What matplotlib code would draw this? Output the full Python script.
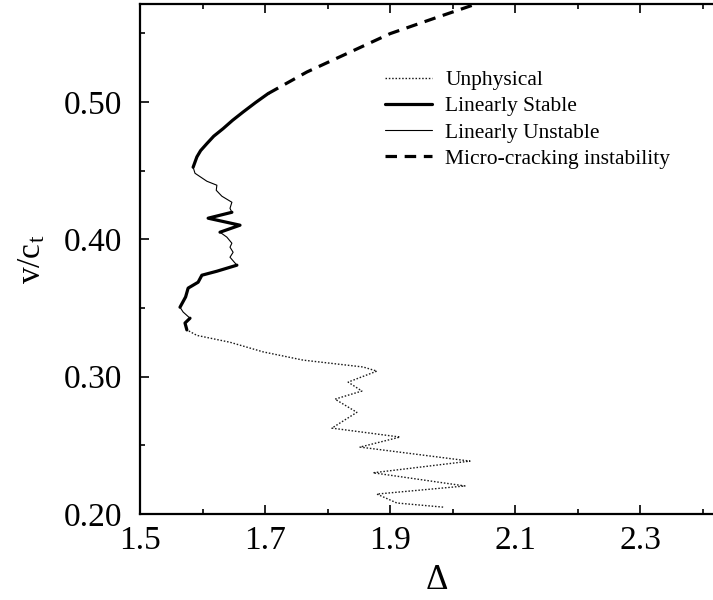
import numpy as np
import matplotlib
matplotlib.use("Agg")
from matplotlib import pyplot as plt

# Curve, ordered by v/c_t (bottom to top)
delta = [1.985, 1.911, 1.879, 2.020, 1.873, 2.028, 1.852, 1.916, 1.807, 1.847,
         1.812, 1.855, 1.833, 1.879, 1.857, 1.761, 1.697, 1.644, 1.591, 1.575,
         1.572, 1.580, 1.569, 1.564, 1.573, 1.577, 1.593, 1.599, 1.623, 1.655,
         1.644, 1.649, 1.644, 1.647, 1.639, 1.628, 1.660, 1.609, 1.647, 1.644,
         1.647, 1.631, 1.622, 1.623, 1.607, 1.588, 1.585, 1.591, 1.597, 1.607,
         1.618, 1.633, 1.648, 1.665, 1.685, 1.705, 1.767, 1.831, 1.900, 1.969,
         2.039, 2.060]
v_ct = [0.205, 0.208, 0.2145, 0.2204, 0.230, 0.2385, 0.2487, 0.256, 0.2625, 0.274,
        0.2836, 0.2895, 0.296, 0.304, 0.307, 0.312, 0.318, 0.325, 0.330, 0.334,
        0.339, 0.3425, 0.347, 0.3505, 0.358, 0.3644, 0.3687, 0.3738, 0.3767, 0.3811,
        0.3869, 0.3905, 0.3942, 0.3971, 0.4015, 0.4051, 0.4102, 0.4153, 0.4196, 0.4225,
        0.4269, 0.4313, 0.4356, 0.4393, 0.4422, 0.448, 0.4524, 0.4599, 0.4645, 0.4696,
        0.475, 0.4805, 0.4865, 0.4926, 0.4995, 0.5060, 0.5217, 0.5351, 0.5496, 0.5605,
        0.5714, 0.575]

# where the kind of solution changes (values of v/c_t)
breaks = [0.205, 0.334, 0.3425, 0.3505, 0.3811, 0.4051, 0.4196, 0.4524, 0.5060, 0.575]
kinds = ["unphys", "stable", "unstable", "stable", "unstable",
         "stable", "unstable", "stable", "micro"]

labels = {"unphys": "Unphysical", "stable": "Linearly Stable",
          "unstable": "Linearly Unstable", "micro": "Micro-cracking instability"}
styles = {"unphys": dict(color="0.1", lw=1.0, ls=(0, (1.1, 1.3))),
          "stable": dict(color="black", lw=2.3, ls="-"),
          "unstable": dict(color="black", lw=0.8, ls="-"),
          "micro": dict(color="black", lw=2.3, ls=(0, (3.6, 2.4)))}

plt.rcParams["font.family"] = ["Liberation Serif", "DejaVu Serif"]
plt.rcParams["mathtext.fontset"] = "custom"
plt.rcParams["mathtext.rm"] = "Liberation Serif"
plt.rcParams["mathtext.it"] = "Liberation Serif:italic"

fig = plt.figure(figsize=(7.13, 6.0), dpi=100)
ax = fig.add_axes([140 / 713, 86 / 600, 593.75 / 713, 510 / 600])

d = np.array(delta)
v = np.array(v_ct)
seen = set()
for i, kind in enumerate(kinds):
    m = (v >= breaks[i] - 1e-9) & (v <= breaks[i + 1] + 1e-9)
    lab = None
    if kind not in seen:
        lab = labels[kind]
        seen.add(kind)
    ax.plot(d[m], v[m], label=lab, solid_capstyle="round", **styles[kind])

ax.set_xlim(1.5, 2.45)
ax.set_ylim(0.20, 0.5712)
ax.set_xticks([1.5, 1.7, 1.9, 2.1, 2.3])
ax.set_xticks(np.arange(1.6, 2.45, 0.2), minor=True)
ax.set_yticks([0.20, 0.30, 0.40, 0.50])
ax.set_yticks([0.25, 0.35, 0.45, 0.55], minor=True)
ax.set_xticklabels(["1.5", "1.7", "1.9", "2.1", "2.3"])
ax.set_yticklabels(["0.20", "0.30", "0.40", "0.50"])
ax.tick_params(which="both", direction="in", top=True, right=True, width=1.2)
ax.tick_params(which="major", length=6.5, labelsize=24)
ax.tick_params(axis="x", which="major", pad=8)
ax.tick_params(axis="y", which="major", pad=13)
ax.tick_params(which="minor", length=3.5)
for s in ax.spines.values():
    s.set_linewidth(1.6)

ax.set_xlabel("Δ", fontsize=25, labelpad=6)
ax.set_ylabel("v/c$_\\mathrm{t}$", fontsize=24, labelpad=12)

order = ["Unphysical", "Linearly Stable", "Linearly Unstable", "Micro-cracking instability"]
h, l = ax.get_legend_handles_labels()
hl = dict(zip(l, h))
ax.legend([hl[k] for k in order], order, loc="upper left",
          bbox_to_anchor=(0.4126, 0.870), frameon=False, fontsize=15.5,
          handlelength=2.2, handletextpad=0.6, labelspacing=0.28,
          borderpad=0, borderaxespad=0)

fig.savefig("out.png", dpi=100)
